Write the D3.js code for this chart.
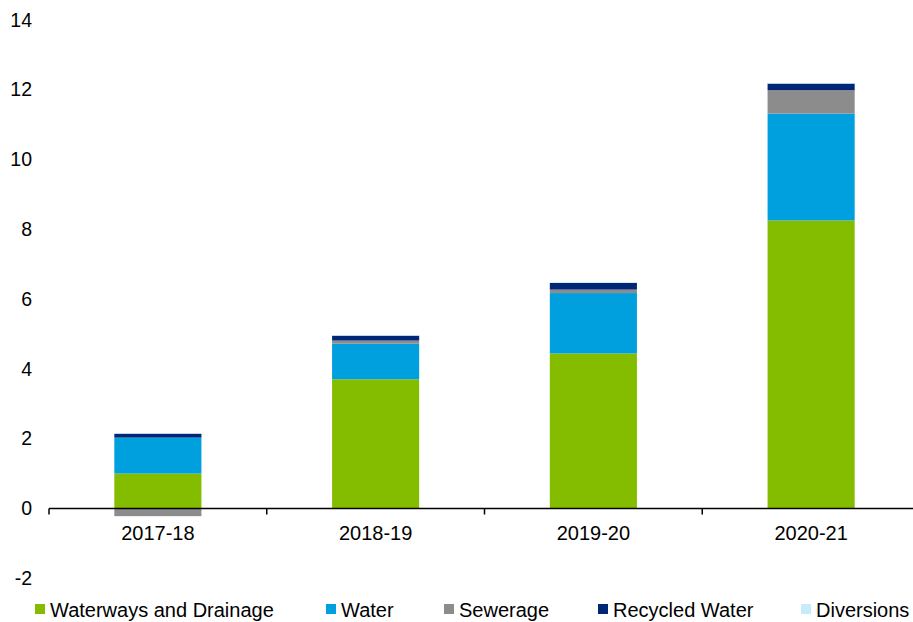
<!DOCTYPE html>
<html>
<meta charset="utf-8">
<style type="text/css">
	body { margin: 0; background: #fff; }
	text { font-family: Arial, "Liberation Sans", sans-serif; fill: #000; }
</style>
<svg width="913" height="622"></svg>
<script src="https://d3js.org/d3.v7.min.js"></script>
<script>
	var years = ['2017-18', '2018-19', '2019-20', '2020-21'];
	var seriesNames = ['Waterways and Drainage', 'Water', 'Sewerage', 'Recycled Water', 'Diversions'];
	var waterways = [1.00, 3.70, 4.44, 8.25];
	var water = [1.03, 1.02, 1.73, 3.06];
	var sewerage = [-0.22, 0.09, 0.10, 0.67];
	var recycled = [0.11, 0.14, 0.19, 0.19];
	var diversions = [0.01, 0.02, 0.02, 0.02];
	var yTicks = [-2, 0, 2, 4, 6, 8, 10, 12, 14];
	var colours = ['#84bd00', '#00a0df', '#8c8c8c', '#002677', '#c6ebfa'];

	var values = [waterways, water, sewerage, recycled, diversions];

	var svg = d3.select('svg');

	var x = d3.scaleBand()
			.domain(years)
			.range([49, 920])
			.paddingInner(0.6)
			.paddingOuter(0.3);

	var xTick = d3.scaleBand().domain(years).range([49, 920]);

	var y = d3.scaleLinear()
			.domain([-2, 14])
			.range([578.3, 19.7]);

	// stack, positives upward and negatives downward from zero
	years.forEach(function(yr, i) {
		var up = 0, down = 0;
		values.forEach(function(s, k) {
			var v = s[i], y0, y1;
			if (v >= 0) { y0 = up; y1 = up + v; up = y1; }
			else { y0 = down; y1 = down + v; down = y1; }
			svg.append('rect')
				.attr('x', x(yr))
				.attr('width', x.bandwidth())
				.attr('y', y(Math.max(y0, y1)))
				.attr('height', Math.abs(y(y0) - y(y1)))
				.attr('fill', colours[k]);
		});
	});

	// y labels, no axis line
	svg.selectAll('.ylab')
		.data(yTicks)
	.enter().append('text')
		.attr('x', 32)
		.attr('y', function(d) { return y(d); })
		.attr('dy', '0.35em')
		.attr('text-anchor', 'end')
		.style('font-size', '19.5px')
		.text(function(d) { return d; });

	// zero line with category ticks
	svg.append('line')
		.attr('x1', 49).attr('x2', 913)
		.attr('y1', y(0)).attr('y2', y(0))
		.attr('stroke', '#000').attr('stroke-width', 1.5);

	years.forEach(function(yr) {
		svg.append('line')
			.attr('x1', xTick(yr)).attr('x2', xTick(yr))
			.attr('y1', y(0)).attr('y2', y(0) + 6)
			.attr('stroke', '#000').attr('stroke-width', 1.5);
	});

	svg.selectAll('.xlab')
		.data(years)
	.enter().append('text')
		.attr('x', function(d) { return xTick(d) + xTick.bandwidth() / 2; })
		.attr('y', 540)
		.attr('text-anchor', 'middle')
		.style('font-size', '20px')
		.text(function(d) { return d; });

	// legend
	var legX = [35, 326, 444, 598, 801];
	seriesNames.forEach(function(name, k) {
		svg.append('rect')
			.attr('x', legX[k]).attr('y', 604)
			.attr('width', 10).attr('height', 10)
			.attr('fill', colours[k]);
		svg.append('text')
			.attr('x', legX[k] + 15).attr('y', 617)
			.style('font-size', '20px')
			.text(name);
	});
</script>
</html>
